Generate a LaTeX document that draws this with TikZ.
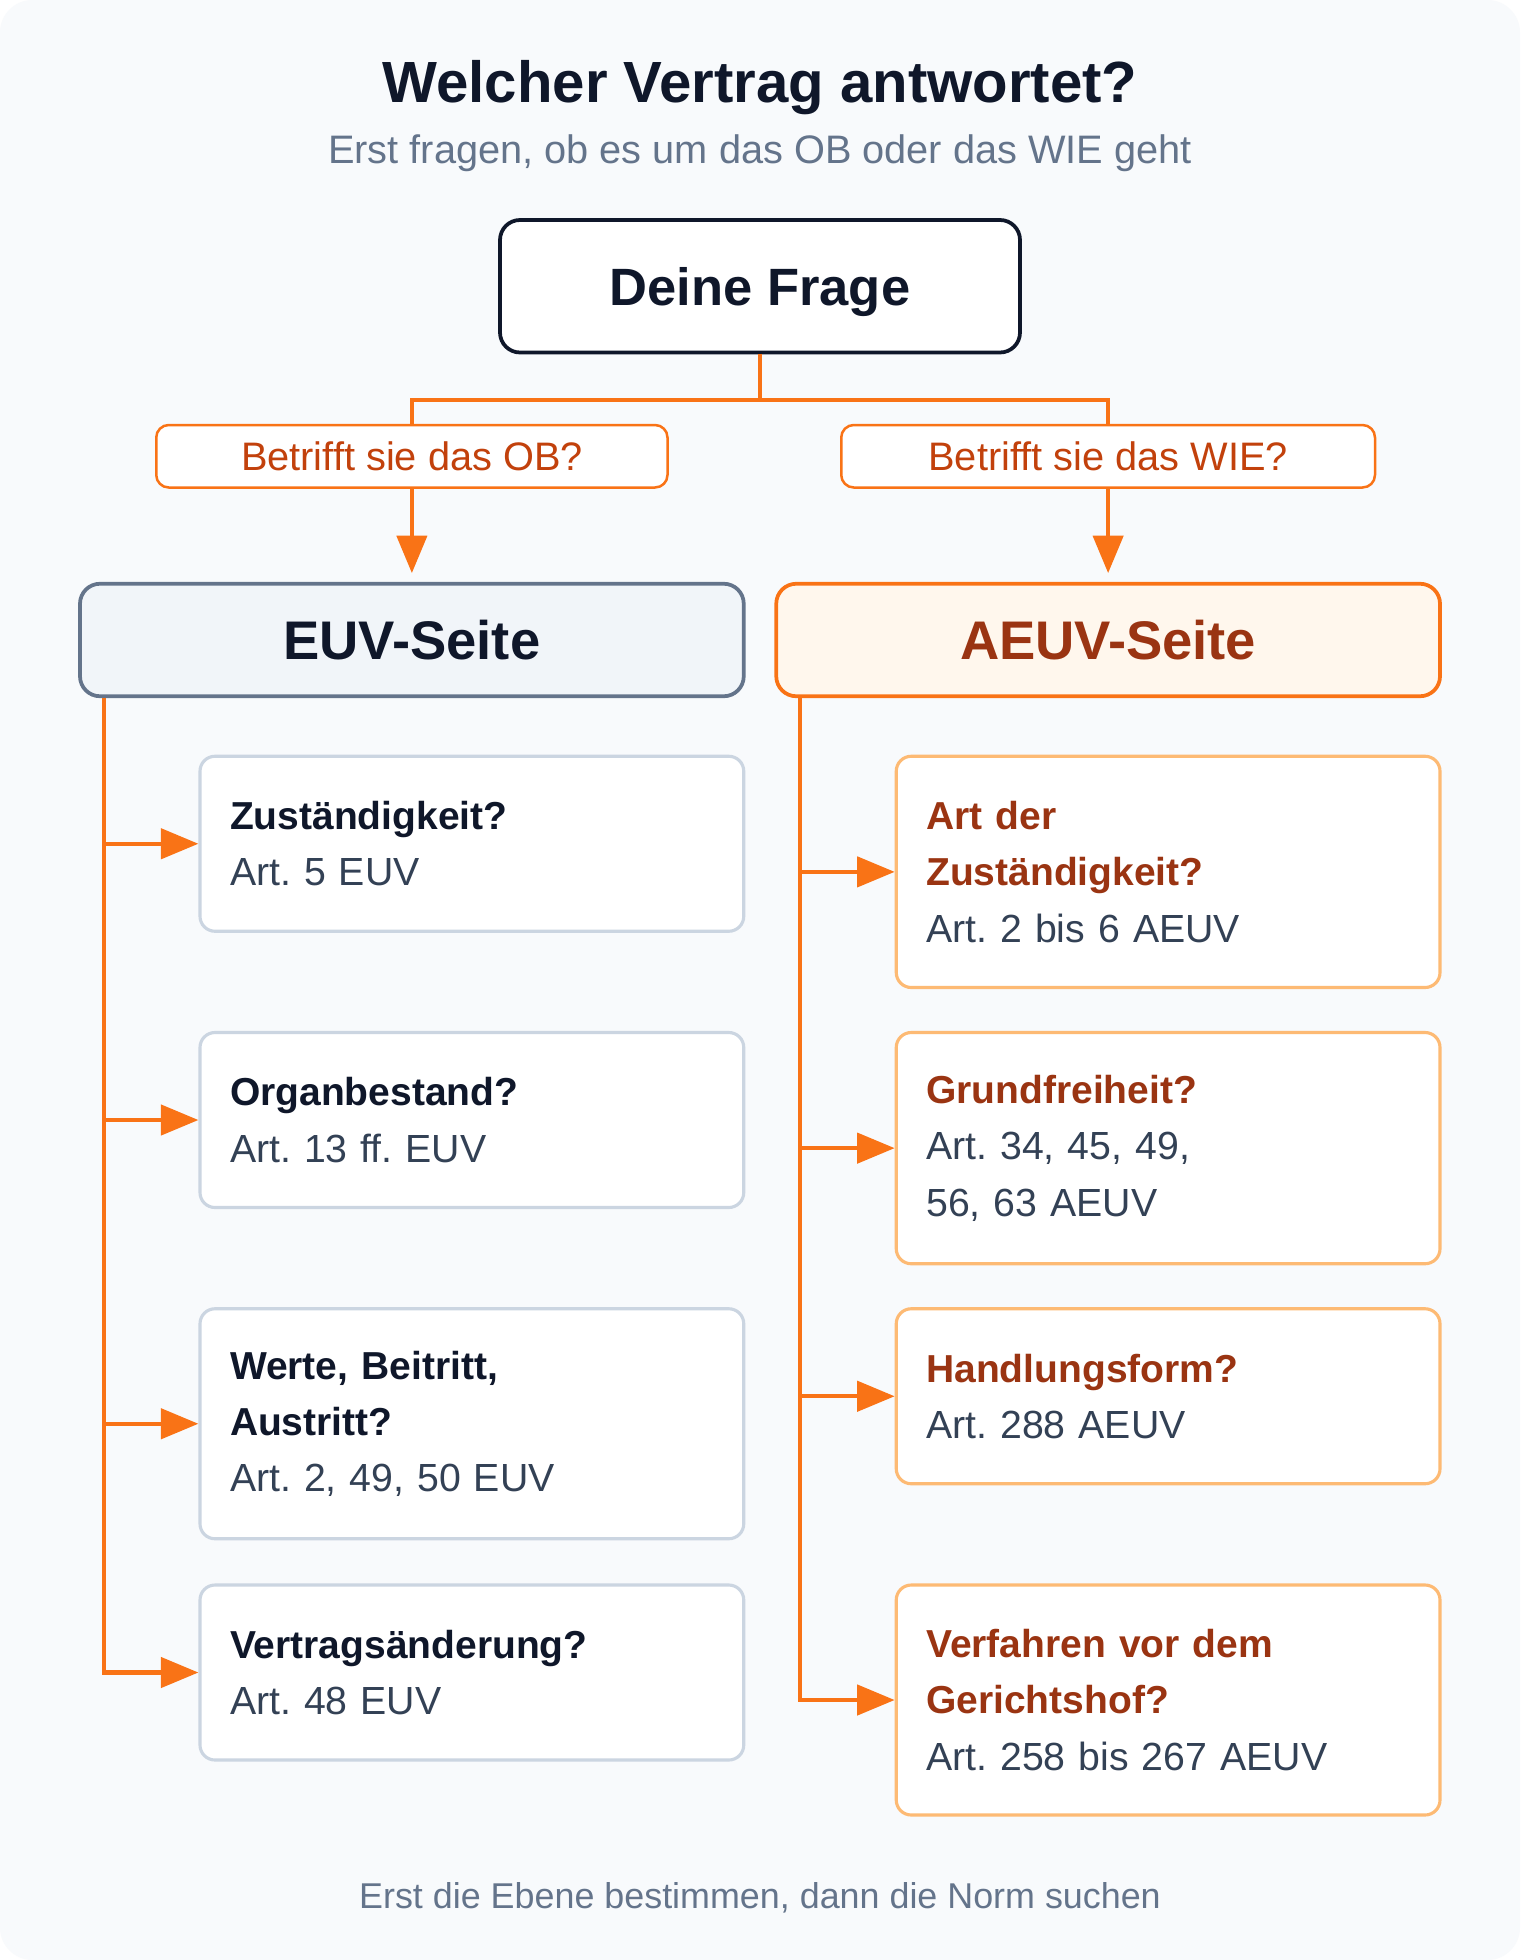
\documentclass[tikz,border=0pt]{standalone}
\usepackage{fontspec}
\setmainfont{Liberation Sans}
\frenchspacing
\usetikzlibrary{arrows.meta}
\definecolor{bgc}{HTML}{F8FAFC}
\definecolor{ink}{HTML}{0F172A}
\definecolor{slate}{HTML}{64748B}
\definecolor{slatedark}{HTML}{334155}
\definecolor{slateline}{HTML}{CBD5E1}
\definecolor{euvfill}{HTML}{F1F5F9}
\definecolor{orange}{HTML}{F97316}
\definecolor{orangedark}{HTML}{C2410C}
\definecolor{rust}{HTML}{9A3412}
\definecolor{peach}{HTML}{FDBA74}
\definecolor{aeuvfill}{HTML}{FFF7ED}
\tikzset{
  conn/.style={draw=orange, line width=3.5pt},
  arr/.style={conn, -{Triangle[length=30pt,width=24pt]}},
  mainbox/.style={draw=ink, line width=3pt, fill=white, rounded corners=16pt,
    minimum width=416pt, minimum height=106pt, text=ink, text depth=0pt,
    font=\fontsize{42}{48}\selectfont\bfseries},
  qbox/.style={draw=orange, line width=2pt, fill=white, rounded corners=10pt,
    minimum height=50pt, text=orangedark, font=\fontsize{31.8}{36}\selectfont},
  sidebox/.style={line width=3pt, rounded corners=16pt,
    minimum width=531pt, minimum height=90pt,
    font=\fontsize{43.5}{50}\selectfont\bfseries},
  card/.style={line width=2.5pt, fill=white, rounded corners=12pt,
    minimum width=435pt, inner xsep=24pt, inner ysep=0pt, text width=387pt,
    align=left, font=\fontsize{31.2}{45}\selectfont},
  euvcard/.style={card, draw=slateline, text=ink},
  aeuvcard/.style={card, draw=peach, text=rust},
}
\newcommand{\sub}[1]{{\mdseries\fontsize{31.4}{45}\selectfont\color{slatedark}#1}}
\begin{document}
\begin{tikzpicture}[x=1pt,y=-1pt]
\useasboundingbox (0,0) rectangle (1216,1568);
\fill[white] (0,0) rectangle (1216,1568);
\fill[bgc, rounded corners=26pt] (0,0) rectangle (1216,1568);

\node[text=ink, font=\fontsize{46.5}{52}\selectfont\bfseries] (title) at (608,70) {Welcher Vertrag antwortet?};
\node[text=slate, font=\fontsize{31.8}{36}\selectfont] (subtitle) at (608,122.5) {Erst fragen, ob es um das OB oder das WIE geht};

\node[mainbox] (frage) at (608,229) {Deine Frage};
\coordinate (split) at (608,320);

\node[qbox, minimum width=409pt] (qob) at (329.5,365) {Betrifft sie das OB?};
\node[qbox, minimum width=427pt] (qwie) at (886.5,365) {Betrifft sie das WIE?};

\node[sidebox, draw=slate, fill=euvfill, text=ink] (euv) at (329.5,512) {EUV-Seite};
\node[sidebox, draw=orange, fill=aeuvfill, text=rust] (aeuv) at (886.5,512) {AEUV-Seite};

\draw[conn] (frage.south) -- (split) -| (qob.north);
\draw[conn] (split) -| (qwie.north);
\draw[arr, shorten >=7pt] (qob.south) -- (euv.north);
\draw[arr, shorten >=7pt] (qwie.south) -- (aeuv.north);

% EUV cards
\node[euvcard, minimum height=140pt] (e1) at (377.5,675) {\textbf{Zuständigkeit?}\\\sub{Art. 5 EUV}};
\node[euvcard, minimum height=140pt] (e2) at (377.5,896) {\textbf{Organbestand?}\\\sub{Art. 13 ff. EUV}};
\node[euvcard, minimum height=184pt] (e3) at (377.5,1139) {\textbf{Werte, Beitritt,}\\\textbf{Austritt?}\\\sub{Art. 2, 49, 50 EUV}};
\node[euvcard, minimum height=140pt] (e4) at (377.5,1338) {\textbf{Vertragsänderung?}\\\sub{Art. 48 EUV}};

% AEUV cards
\node[aeuvcard, minimum height=185pt] (a1) at (934.5,697.5) {\textbf{Art der}\\\textbf{Zuständigkeit?}\\\sub{Art. 2 bis 6 AEUV}};
\node[aeuvcard, minimum height=185pt] (a2) at (934.5,918.5) {\textbf{Grundfreiheit?}\\\sub{Art. 34, 45, 49,}\\\sub{56, 63 AEUV}};
\node[aeuvcard, minimum height=140pt] (a3) at (934.5,1117) {\textbf{Handlungsform?}\\\sub{Art. 288 AEUV}};
\node[aeuvcard, minimum height=184pt] (a4) at (934.5,1360) {\textbf{Verfahren vor dem}\\\textbf{Gerichtshof?}\\\sub{Art. 258 bis 267 AEUV}};

\coordinate (ltrunk) at (83,558.5);
\coordinate (rtrunk) at (640,558.5);
\foreach \c in {e1,e2,e3,e4} \draw[arr] (ltrunk) |- (\c.west);
\foreach \c in {a1,a2,a3,a4} \draw[arr] (rtrunk) |- (\c.west);

\node[text=slate, font=\fontsize{28.7}{32}\selectfont] (footer) at (608,1518) {Erst die Ebene bestimmen, dann die Norm suchen};
\end{tikzpicture}
\end{document}
